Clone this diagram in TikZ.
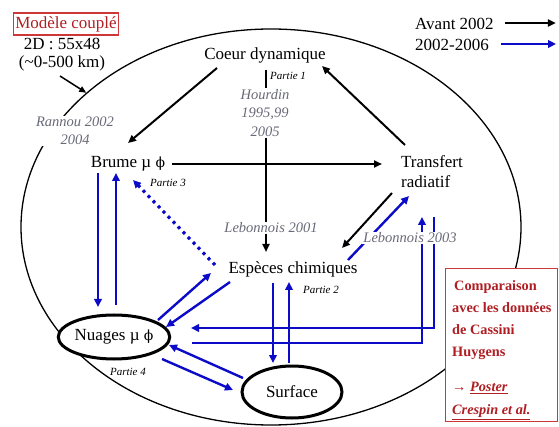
\documentclass[tikz,border=0pt]{standalone}
\usepackage{fontspec}
\setmainfont{Liberation Serif}
\newfontfamily\djs{DejaVu Serif}
\usetikzlibrary{arrows.meta,shapes.geometric}
\definecolor{myblue}{RGB}{12,12,200}
\definecolor{boxred}{RGB}{205,55,55}
\definecolor{txtred}{RGB}{175,30,35}
\definecolor{graytxt}{RGB}{105,105,120}
\newcommand{\muphi}{µ {\djs\fontsize{14}{16}\selectfont ϕ}}
\begin{document}
\begin{tikzpicture}[x=1pt,y=-1pt,
  lbl/.style={font=\fontsize{17}{20}\selectfont, inner sep=1pt},
  part/.style={font=\fontsize{11}{13}\selectfont\itshape, inner sep=0pt},
  ref/.style={font=\fontsize{14.5}{18.5}\selectfont\itshape, text=graytxt, fill=white, inner sep=1pt, align=center},
  blk/.style={draw=black, line width=2pt, -{Triangle[length=8pt,width=7pt]}},
  blu/.style={draw=myblue, line width=2.4pt, -{Triangle[length=8pt,width=7.5pt]}},
  oval/.style={ellipse, draw=black, line width=3pt, fill=white, inner sep=0pt},
  cmptxt/.style={font=\fontsize{14.3}{16}\selectfont\bfseries, text=txtred, anchor=west, inner sep=0pt},
]
\useasboundingbox (0,0) rectangle (559,427);
% world ellipse
\node[ellipse, draw, line width=1.3pt, minimum width=500pt, minimum height=396pt, inner sep=0pt] (world) at (271,227) {};
% comparison box
\node[draw=boxred, line width=1.5pt, fill=white, minimum width=112pt, minimum height=153pt, inner sep=0pt] (cmp) at (501.5,345) {};
\node[cmptxt] (c1) at (454,287) {Comparaison};
\node[cmptxt] (c2) at (452,308) {avec les données};
\node[cmptxt] (c3) at (452,330) {de Cassini};
\node[cmptxt] (c4) at (452,353) {Huygens};
\node[cmptxt] (c5) at (452,388) {{\mdseries →} \underline{\textit{Poster}}};
\node[cmptxt] (c6) at (452,412) {\underline{\textit{Crespin et al.}}};

% model box
\node[lbl, draw=boxred, line width=1.2pt, text=txtred, inner xsep=2pt, inner ysep=1pt, minimum height=22pt] (model) at (66,24) {Modèle couplé};
\node[lbl] (dims) at (62,44) {2D : 55x48};
\node[lbl] (range) at (62,63) {(\textasciitilde0-500 km)};
\draw[draw=black, line width=1.5pt, -{Triangle[length=7pt,width=6pt]}] ([shift={(-2,13)}]range.center) -- (world.144);

% legend
\node[lbl, anchor=west] (avant) at (414,24) {Avant 2002};
\node[lbl, anchor=west] (recent) at (414,45) {2002-2006};
\draw[blk] ([shift={(10,-1)}]avant.east) -- ++(51,0);
\draw[blu] ([shift={(11,-1)}]recent.east) -- ++(55,0);

% main nodes
\node[lbl] (coeur) at (265,55) {Coeur dynamique};
\node[lbl] (brume) at (128,164) {Brume \muphi};
\node[lbl, align=left] (transfert) at (432,172) {Transfert\\radiatif};
\node[lbl] (especes) at (293,269) {Espèces chimiques};
\node[oval, minimum width=100pt, minimum height=44pt] (nuages) at (114,337) {\fontsize{17}{20}\selectfont Nuages \muphi};
\node[oval, minimum width=100pt, minimum height=52pt] (surface) at (292,392) {\fontsize{17}{20}\selectfont Surface};

% black connectors
\draw[blk] ([shift={(-48,13)}]coeur.center) -- ([shift={(0,-21)}]brume.center);
\draw[blk] ([shift={(-27,-27)}]transfert.center) -- ([shift={(57,11)}]coeur.center);
\draw[blk] ([shift={(1,15)}]coeur.center) -- ([shift={(-27,-17)}]especes.center);
\draw[blk] ([shift={(44,0)}]brume.center) -- ([shift={(-50,-8)}]transfert.center);
\draw[blk] ([shift={(-40,21)}]transfert.center) -- ([shift={(49,-21)}]especes.center);

% blue connectors
\draw[blu] ([shift={(55,-9)}]especes.center) -- ([shift={(-23,24)}]transfert.center);
\draw[blu, line width=3.2pt, dash pattern=on 3pt off 4.2pt] ([shift={(-78,-4)}]especes.center) -- ([shift={(5,16)}]brume.center);
\draw[blu] ([shift={(-30,9)}]brume.center) -- ([shift={(-16,-30)}]nuages.center);
\draw[blu] ([shift={(2,-32)}]nuages.center) -- ([shift={(-12,9)}]brume.center);
\draw[blu] ([shift={(44,-17)}]nuages.center) -- ([shift={(-82,4)}]especes.center);
\draw[blu] ([shift={(-63,13)}]especes.center) -- ([shift={(52,-10)}]nuages.center);
\draw[blu] ([shift={(-49,-14)}]surface.center) -- ([shift={(55,8)}]nuages.center);
\draw[blu] ([shift={(48,22)}]nuages.center) -- ([shift={(-59,-2)}]surface.center);
\draw[blu] ([shift={(-20,14)}]especes.center) -- ([shift={(-19,-29)}]surface.center);
\draw[blu] ([shift={(-3,-29)}]surface.center) -- ([shift={(-4,13)}]especes.center);
\draw[blu] ([shift={(2,45)}]transfert.center) |- ([shift={(77,-9)}]nuages.center);
\draw[blu] ([shift={(78,6)}]nuages.center) -| ([shift={(-10,45)}]transfert.center);

% reference labels
\node[ref] (rannou) at (75,131) {Rannou 2002\\2004};
\node[ref] (hourdin) at (265,113) {Hourdin\\1995,99\\2005};
\node[ref] (leb1) at (271,228) {Lebonnois 2001};
\node[ref] (leb3) at (410,238) {Lebonnois 2003};

% parties
\node[part, anchor=west] (p1) at (270,76) {Partie 1};
\node[part] (p3) at (168,183) {Partie 3};
\node[part] (p2) at (321,290) {Partie 2};
\node[part] (p4) at (128,372) {Partie 4};
\end{tikzpicture}
\end{document}
